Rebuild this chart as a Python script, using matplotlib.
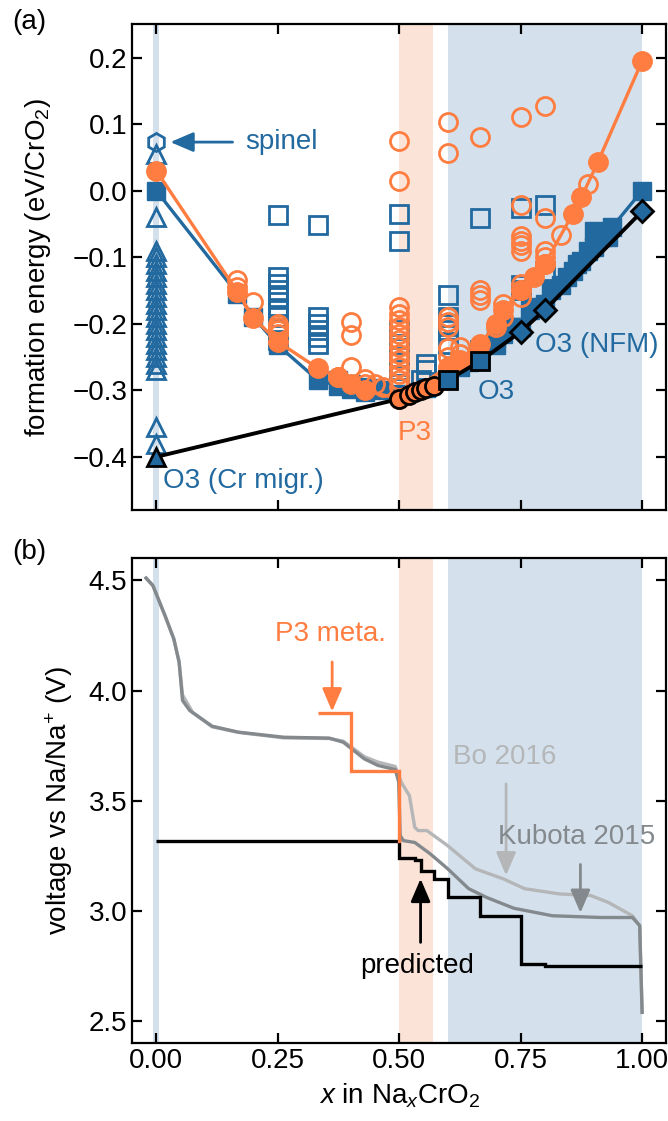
import matplotlib
matplotlib.use("Agg")
import matplotlib.pyplot as plt

BLUE = "#21699f"
ORANGE = "#ff7d40"
BAND_BLUE = "#d4e1ec"
BAND_ORANGE = "#fbe3d7"
DARK_GRAY = "#84898d"
LIGHT_GRAY = "#b4b6b8"
FS = 20

plt.rcParams.update({
    "font.family": ["Liberation Sans", "DejaVu Sans"],
    "font.size": FS,
    "mathtext.fontset": "custom",
    "mathtext.rm": "Liberation Sans",
    "mathtext.it": "Liberation Sans:italic",
    "axes.linewidth": 1.6,
    "xtick.direction": "in", "ytick.direction": "in",
    "xtick.top": True, "ytick.right": True,
    "xtick.major.size": 7, "ytick.major.size": 7,
    "xtick.major.width": 1.6, "ytick.major.width": 1.6,
    "xtick.labelsize": FS, "ytick.labelsize": FS,
})

# ---- panel (a): formation energies ------------------------------------------
# O3 (Cr migration) structures at x = 0
tri_e = [0.055, -0.04, -0.09, -0.10, -0.11, -0.12, -0.13, -0.14, -0.15, -0.16,
         -0.17, -0.18, -0.19, -0.20, -0.21, -0.22, -0.23, -0.24, -0.25, -0.26,
         -0.27, -0.355, -0.38]
spinel_x, spinel_e = 0.0, 0.073

# O3 (blue) non-ground-state structures
o3_open_x = [0.25, 0.25, 0.25, 0.25, 0.25, 0.25, 0.25, 0.25, 0.25, 0.25,
             0.333, 0.333, 0.333, 0.333, 0.333, 0.333,
             0.5, 0.5, 0.5, 0.5, 0.5, 0.5, 0.5,
             0.545, 0.556, 0.556,
             0.6, 0.6, 0.6, 0.6, 0.6,
             0.667, 0.667, 0.75, 0.75, 0.75, 0.8, 0.8]
o3_open_e = [-0.036, -0.13, -0.14, -0.15, -0.16, -0.18, -0.19, -0.20, -0.21, -0.225,
             -0.051, -0.19, -0.20, -0.21, -0.22, -0.23,
             -0.035, -0.075, -0.21, -0.23, -0.25, -0.27, -0.29,
             -0.285, -0.26, -0.27,
             -0.157, -0.19, -0.20, -0.21, -0.23,
             -0.041, -0.24, -0.026, -0.142, -0.15, -0.021, -0.12]

# P3 (orange) non-ground-state structures
p3_open_x = [0.167, 0.167, 0.2, 0.25, 0.25, 0.25, 0.25,
             0.375, 0.4, 0.4, 0.4, 0.429, 0.429, 0.45, 0.467,
             0.5, 0.5, 0.5, 0.5, 0.5, 0.5, 0.5, 0.5, 0.5, 0.5, 0.5, 0.5, 0.5, 0.5, 0.5,
             0.6, 0.6, 0.6, 0.6, 0.6, 0.6, 0.6, 0.625, 0.625,
             0.667, 0.667, 0.667, 0.667, 0.7, 0.714, 0.714,
             0.75, 0.75, 0.75, 0.75, 0.75, 0.75, 0.75, 0.75, 0.75,
             0.8, 0.8, 0.8, 0.8, 0.8, 0.833, 0.889]
p3_open_e = [-0.135, -0.145, -0.167, -0.20, -0.205, -0.21, -0.215,
             -0.28, -0.197, -0.217, -0.265, -0.283, -0.29, -0.29, -0.295,
             0.075, 0.015, -0.175, -0.185, -0.195, -0.205, -0.215, -0.225, -0.235,
             -0.245, -0.255, -0.265, -0.275, -0.285, -0.295,
             0.103, 0.057, -0.19, -0.197, -0.205, -0.237, -0.25, -0.235, -0.245,
             0.08, -0.15, -0.157, -0.164, -0.205, -0.19, -0.17,
             0.11, -0.022, -0.068, -0.075, -0.082, -0.09, -0.14, -0.15, -0.16,
             0.128, -0.041, -0.09, -0.10, -0.11, -0.066, 0.01]

# O3 (blue) ground-state series
o3_x = [0.0, 0.167, 0.2, 0.25, 0.333, 0.375, 0.4, 0.429, 0.5, 0.556, 0.6, 0.667,
        0.7, 0.75, 0.8, 0.833, 0.875, 0.917, 0.938, 1.0]
o3_e = [0.0, -0.155, -0.19, -0.232, -0.285, -0.293, -0.298, -0.302, -0.305, -0.297,
        -0.285, -0.256, -0.232, -0.205, -0.17, -0.142, -0.105, -0.07, -0.055, 0.0]
# further O3 (blue) filled structures close to the hull
o3_fill_x = [0.375, 0.4, 0.429, 0.45, 0.467, 0.625, 0.643, 0.7, 0.714, 0.733,
             0.769, 0.778, 0.812, 0.846, 0.857, 0.867, 0.889, 0.9, 0.9, 0.929]
o3_fill_e = [-0.285, -0.29, -0.295, -0.297, -0.30, -0.265, -0.258, -0.222, -0.215,
             -0.205, -0.18, -0.175, -0.15, -0.13, -0.12, -0.11, -0.09, -0.085, -0.06,
             -0.07]

# P3 (orange) ground-state series
p3_x = [0.0, 0.167, 0.2, 0.25, 0.333, 0.375, 0.4, 0.429, 0.5, 0.6, 0.625, 0.667,
        0.7, 0.714, 0.75, 0.778, 0.8, 0.857, 0.875, 0.909, 1.0]
p3_e = [0.03, -0.152, -0.191, -0.227, -0.267, -0.28, -0.29, -0.30, -0.313, -0.265,
        -0.255, -0.23, -0.2, -0.18, -0.15, -0.13, -0.11, -0.035, -0.01, 0.043, 0.195]

# convex hull
hull_x = [0.0, 0.5, 0.52, 0.533, 0.545, 0.556, 0.571, 0.6, 0.667, 0.75, 0.8, 1.0]
hull_e = [-0.40, -0.313, -0.307, -0.303, -0.30, -0.297, -0.293, -0.285, -0.256,
          -0.212, -0.179, -0.031]
hull_kind = ["^", "o", "o", "o", "o", "o", "o", "s", "s", "D", "D", "D"]

# ---- panel (b): voltage profiles --------------------------------------------
kub_x = [-0.021, -0.007, 0.018, 0.036, 0.047, 0.054, 0.069, 0.115, 0.169, 0.262,
         0.356, 0.385, 0.428, 0.456, 0.492, 0.499, 0.502, 0.509, 0.532, 0.564,
         0.60, 0.643, 0.679, 0.736, 0.815, 0.916, 0.98, 0.995, 1.0]
kub_v = [4.511, 4.477, 4.34, 4.235, 4.129, 3.955, 3.909, 3.838, 3.811, 3.788,
         3.784, 3.765, 3.69, 3.66, 3.641, 3.584, 3.341, 3.318, 3.31, 3.258,
         3.19, 3.10, 3.061, 3.011, 2.977, 2.969, 2.969, 2.932, 2.538]
bo_x = [-0.021, -0.007, 0.018, 0.036, 0.047, 0.054, 0.062, 0.075, 0.115, 0.169,
        0.262, 0.356, 0.385, 0.428, 0.456, 0.492, 0.505, 0.521, 0.532, 0.539,
        0.557, 0.60, 0.657, 0.715, 0.758, 0.83, 0.894, 0.93, 0.98, 0.995, 1.0]
bo_v = [4.511, 4.477, 4.34, 4.235, 4.129, 3.98, 3.95, 3.90, 3.835, 3.81,
        3.785, 3.782, 3.77, 3.70, 3.675, 3.655, 3.58, 3.523, 3.379, 3.364,
        3.364, 3.295, 3.19, 3.144, 3.10, 3.076, 3.069, 3.038, 2.977, 2.932, 2.538]

pred_edges = [0.0, 0.5, 0.533, 0.544, 0.571, 0.6, 0.667, 0.75, 0.8, 1.0]
pred_v = [3.315, 3.238, 3.228, 3.179, 3.144, 3.061, 2.977, 2.758, 2.747]
p3m_edges = [0.333, 0.4, 0.5]
p3m_v = [3.90, 3.636]


def bands(ax):
    ax.axvspan(-0.006, 0.006, color=BAND_BLUE, lw=0, zorder=0)
    ax.axvspan(0.5, 0.57, color=BAND_ORANGE, lw=0, zorder=0)
    ax.axvspan(0.6, 1.0, color=BAND_BLUE, lw=0, zorder=0)


def arrow(ax, xy, xytext, color):
    ax.annotate("", xy=xy, xytext=xytext,
                arrowprops=dict(arrowstyle="-|>,head_length=0.7,head_width=0.3",
                                color=color, lw=2.0, shrinkA=0, shrinkB=0))


fig = plt.figure(figsize=(6.68, 11.21), dpi=100)
axA = fig.add_axes([0.1976, 0.545, 0.8, 0.4333])
axB = fig.add_axes([0.1976, 0.0698, 0.8, 0.432])

# ---------------- (a)
bands(axA)
ms, mew = 13, 2.0
axA.plot([0.0] * len(tri_e), tri_e, "^", ms=ms, mfc="none", mec=BLUE, mew=mew, zorder=2)
axA.plot([spinel_x], [spinel_e], "h", ms=ms, mfc="none", mec=BLUE, mew=mew, zorder=2)
axA.plot(o3_open_x, o3_open_e, "s", ms=ms, mfc="none", mec=BLUE, mew=mew, zorder=2)
axA.plot(o3_fill_x, o3_fill_e, "s", ms=ms, color=BLUE, lw=0, zorder=3)
axA.plot(o3_x, o3_e, "s-", ms=ms, color=BLUE, lw=2.4, zorder=3)
axA.plot(p3_open_x, p3_open_e, "o", ms=ms, mfc="none", mec=ORANGE, mew=mew, zorder=4)
axA.plot(p3_x, p3_e, "o-", ms=ms + 1, color=ORANGE, lw=2.4, zorder=4)
axA.plot(hull_x, hull_e, "-", color="black", lw=2.8, zorder=5)
for x, e, m in zip(hull_x, hull_e, hull_kind):
    fc = ORANGE if m == "o" else BLUE
    axA.plot([x], [e], m, ms=(11 if m == "D" else 13), mfc=fc, mec="black", mew=2.0, zorder=6)

axA.text(0.182, 0.073, "spinel", color=BLUE, va="center", ha="left")
arrow(axA, (0.029, 0.073), (0.157, 0.073), BLUE)
axA.text(0.013, -0.437, "O3 (Cr migr.)", color=BLUE, va="center", ha="left")
axA.text(0.497, -0.364, "P3", color=ORANGE, va="center", ha="left")
axA.text(0.662, -0.302, "O3", color=BLUE, va="center", ha="left")
axA.text(0.78, -0.232, "O3 (NFM)", color=BLUE, va="center", ha="left")

axA.set_xlim(-0.05, 1.05)
axA.set_ylim(-0.48, 0.25)
axA.set_xticks([0.0, 0.25, 0.5, 0.75, 1.0])
axA.set_xticklabels([])
axA.set_yticks([-0.4, -0.3, -0.2, -0.1, 0.0, 0.1, 0.2])
axA.set_ylabel("formation energy (eV/CrO$_2$)", labelpad=14)

# ---------------- (b)
bands(axB)
axB.plot(bo_x, bo_v, color=LIGHT_GRAY, lw=2.4, zorder=2)
axB.plot(kub_x, kub_v, color=DARK_GRAY, lw=2.4, zorder=3)
axB.stairs(pred_v, pred_edges, baseline=None, color="black", lw=2.4, zorder=4)
axB.stairs(p3m_v, p3m_edges, baseline=None, color=ORANGE, lw=2.4, zorder=5)
axB.plot([p3m_edges[-1], p3m_edges[-1]], [p3m_v[-1], pred_v[0]], color=ORANGE, lw=2.4, zorder=5)

axB.text(0.359, 4.257, "P3 meta.", color=ORANGE, ha="center", va="center")
arrow(axB, (0.362, 3.905), (0.362, 4.13), ORANGE)
axB.text(0.718, 3.698, "Bo 2016", color=LIGHT_GRAY, ha="center", va="center")
arrow(axB, (0.72, 3.16), (0.72, 3.576), LIGHT_GRAY)
axB.text(0.866, 3.334, "Kubota 2015", color=DARK_GRAY, ha="center", va="center")
arrow(axB, (0.873, 2.99), (0.873, 3.21), DARK_GRAY)
axB.text(0.536, 2.75, "predicted", color="black", ha="center", va="center")
arrow(axB, (0.544, 3.145), (0.544, 2.856), "black")

axB.set_xlim(-0.05, 1.05)
axB.set_ylim(2.4, 4.6)
axB.set_xticks([0.0, 0.25, 0.5, 0.75, 1.0])
axB.set_xticklabels(["0.00", "0.25", "0.50", "0.75", "1.00"])
axB.set_yticks([2.5, 3.0, 3.5, 4.0, 4.5])
axB.set_ylabel("voltage vs Na/Na$^{+}$ (V)", labelpad=10)
axB.set_xlabel("$x$ in Na$_x$CrO$_2$", labelpad=6)

fig.text(0.018, 0.980, "(a)", va="center")
fig.text(0.018, 0.508, "(b)", va="center")

fig.savefig("out.png", dpi=100)
